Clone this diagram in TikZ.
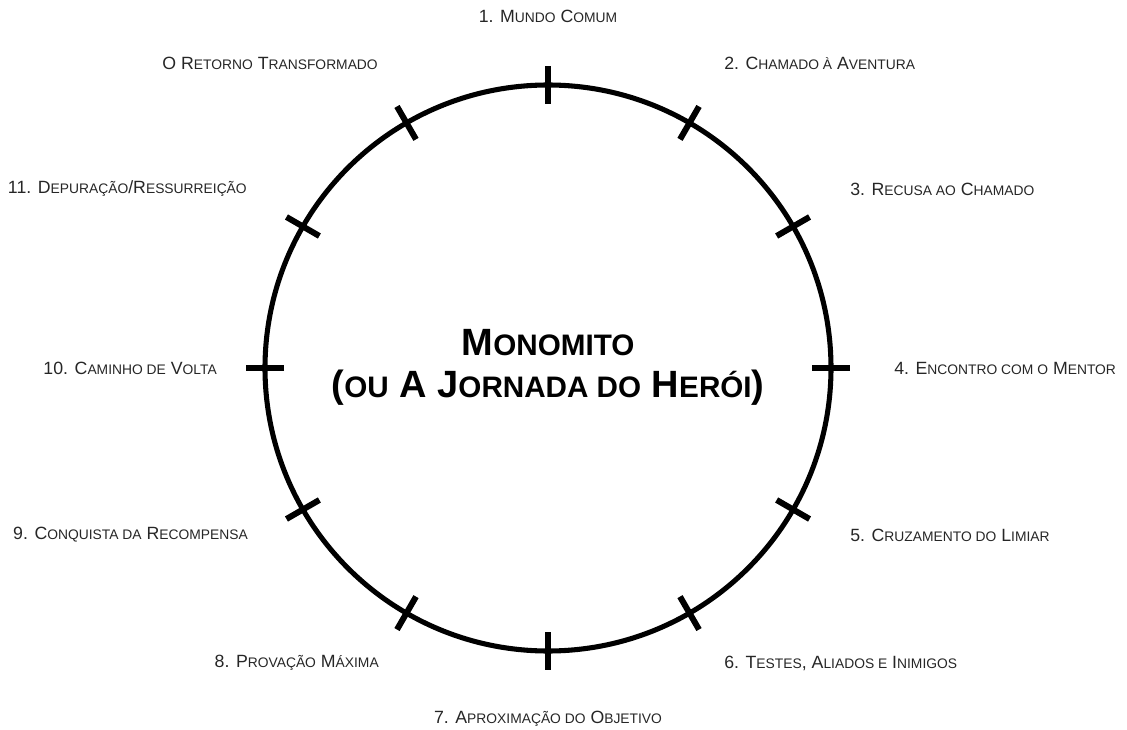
\documentclass[tikz,border=0pt]{standalone}
\usepackage{fontspec}
\setmainfont{Liberation Sans}
\usepackage{graphicx}
\usetikzlibrary{calc}
\newcommand{\sm}[1]{\scalebox{0.78}{#1}}

\tikzset{
  stage/.style={font=\fontsize{13.3pt}{16pt}\selectfont, text=black!85, inner sep=0pt},
  tick/.style={line width=4.5pt}
}

\begin{document}
\begin{tikzpicture}[x=0.75pt, y=0.75pt]
      \useasboundingbox (0, 0) rectangle (1127, 729);
      \coordinate (c) at (548, 361);
      \draw[line width=3.8pt] (c) circle [radius=212.25pt];
      \foreach \a in {0, 30, ..., 330} {
        \draw[tick] ($(c) + (\a:198pt)$) -- ($(c) + (\a:226.5pt)$);
      }
      \node[font=\fontsize{28.5pt}{31.5pt}\selectfont\bfseries, align=center] (title) at (548, 362)
        {M\sm{ONOMITO}\\(\sm{OU} A J\sm{ORNADA DO} H\sm{ERÓI})};
      \node[stage] (s1) at (548, 713) {1. M\sm{UNDO} C\sm{OMUM}};
      \node[stage, anchor=west] (s2) at (724, 666) {2. C\sm{HAMADO À} A\sm{VENTURA}};
      \node[stage, anchor=west] (s3) at (850, 540) {3. R\sm{ECUSA AO} C\sm{HAMADO}};
      \node[stage, anchor=west] (s4) at (894, 361) {4. E\sm{NCONTRO COM O} M\sm{ENTOR}};
      \node[stage, anchor=west] (s5) at (850, 194) {5. C\sm{RUZAMENTO DO} L\sm{IMIAR}};
      \node[stage, anchor=west] (s6) at (724, 66) {6. T\sm{ESTES}, A\sm{LIADOS E} I\sm{NIMIGOS}};
      \node[stage] (s7) at (548, 10) {7. A\sm{PROXIMAÇÃO DO} O\sm{BJETIVO}};
      \node[stage, anchor=east] (s8) at (379, 66) {8. P\sm{ROVAÇÃO} M\sm{ÁXIMA}};
      \node[stage, anchor=east] (s9) at (248, 194) {9. C\sm{ONQUISTA DA} R\sm{ECOMPENSA}};
      \node[stage, anchor=east] (s10) at (217, 361) {10. C\sm{AMINHO DE} V\sm{OLTA}};
      \node[stage, anchor=east] (s11) at (247, 540) {11. D\sm{EPURAÇÃO}/R\sm{ESSURREIÇÃO}};
      \node[stage, anchor=east] (ret) at (378, 666) {O R\sm{ETORNO} T\sm{RANSFORMADO}};
    \end{tikzpicture}
\end{document}
